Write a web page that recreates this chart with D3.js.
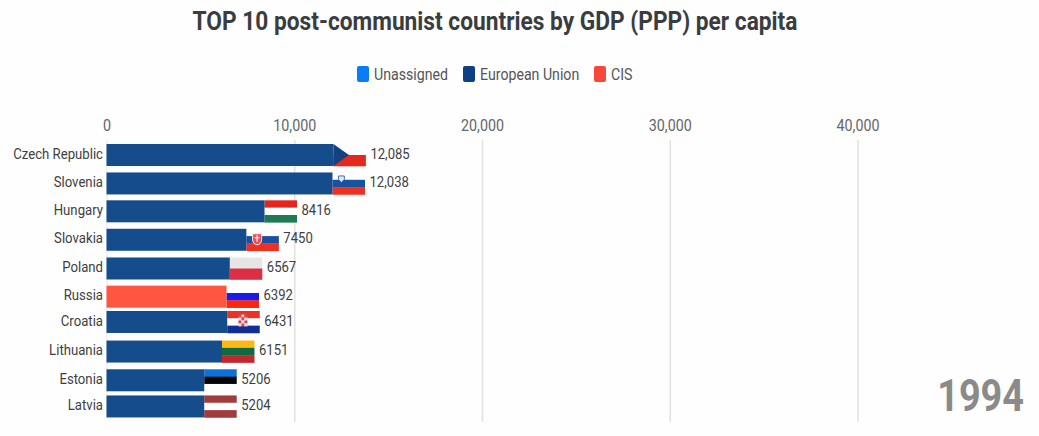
<!DOCTYPE html>
<html><head><meta charset="utf-8">
<style>html,body{margin:0;padding:0;background:#fefefe;overflow:hidden}text{font-family:Roboto,sans-serif}</style>
<script src="https://cdn.jsdelivr.net/npm/d3@7/dist/d3.min.js"></script></head>
<body><svg id="c" width="1039" height="436"></svg>
<script>
const countries=["Czech Republic","Slovenia","Hungary","Slovakia","Poland","Russia","Croatia","Lithuania","Estonia","Latvia"];
const values=[12085,12038,8416,7450,6567,6392,6431,6151,5206,5204];
const valueLabels=["12,085","12,038","8416","7450","6567","6392","6431","6151","5206","5204"];
const ranks=[0,1,1.98,2.98,3.99,4.98,5.87,6.91,7.92,8.84];
const groups=["European Union","European Union","European Union","European Union","European Union","CIS","European Union","European Union","European Union","European Union"];
const legendNames=["Unassigned","European Union","CIS"];
const legendColors=["#0a7cf5","#0f3f84","#f9463a"];
const barColors={"European Union":"#154c8c","CIS":"#fe5640"};
const ticks=[0,10000,20000,30000,40000];
const year="1994";
const flags=[["#fefefe","#e5281e"],["#fefefe","#17539e","#f0301f"],["#e2281e","#fefefe","#1f7a52"],["#fefefe","#1b4fa0","#ef2f22"],["#e6e6e6","#dc2f45"],["#fefefe","#1a1aee","#fb2510"],["#ee3024","#fefefe","#102f92"],["#fdb913","#0f6a44","#c1272d"],["#0a72d8","#050505","#fefefe"],["#a23b3b","#fefefe","#a23b3b"]];

const svg=d3.select("#c");
const x=d3.scaleLinear().domain([0,40000]).range([107,858]);
const y=d3.scaleLinear().domain([0,9]).range([144,400]);
const barH=22, flagW=32.5, barX=d3.scaleLinear().domain([0,40000]).range([106.5,857.5]);

function label(sel,xPos,yPos,str,anchor,size,color,weight,sx){
  return sel.append("text").attr("transform",`translate(${xPos},${yPos}) scale(${sx},1)`)
    .attr("text-anchor",anchor).attr("font-size",size).attr("fill",color).attr("font-weight",weight||400).text(str);
}
label(svg,495,30,"TOP 10 post-communist countries by GDP (PPP) per capita","middle",26,"#3a3d40",700,0.874);
const lx=[357,463,594], ltx=[374,480,611];
legendNames.forEach((n,i)=>{
  svg.append("rect").attr("x",lx[i]).attr("y",66).attr("width",12).attr("height",16).attr("rx",2).attr("fill",legendColors[i]);
  label(svg,ltx[i],79.5,n,"start",16,"#555",400,0.885);
});
ticks.forEach(t=>{
  svg.append("line").attr("x1",x(t)).attr("x2",x(t)).attr("y1",140).attr("y2",t?422:418)
    .attr("stroke",t?"#e2e2e2":"#e8e8e8").attr("stroke-width",t?1.6:1);
  label(svg,x(t),131,t?d3.format(",")(t):"0","middle",16,"#666",400,0.895);
});
countries.forEach((c,i)=>{
  const top=y(ranks[i]), g=svg.append("g");
  const left=barX(values[i]);
  const xs=d3.scaleLinear().domain([0,1]).range([left,left+flagW]);
  const st=flags[i], h=barH/st.length;
  st.forEach((col,k)=>g.append("rect").attr("x",xs(0)).attr("y",top+k*h).attr("width",flagW).attr("height",h+.3).attr("fill",col));
  if(c==="Czech Republic") g.append("path").attr("d",`M${xs(0)},${top}L${xs(.48)},${top+barH/2}L${xs(0)},${top+barH}Z`).attr("fill","#12427f");
  if(c==="Slovenia") g.append("path").attr("d",`M${xs(.18)},${top+3.5}h6v3.5l-3,3l-3,-3Z`).attr("fill","#dfe8f2").attr("stroke","#17539e").attr("stroke-width",.8);
  if(c==="Slovakia"){
    g.append("path").attr("d",`M${xs(.33)-4.5},${top+5}h9v6a4.5,5 0 0 1 -9,0Z`).attr("fill","#ef4a55").attr("stroke","#f3f3f3").attr("stroke-width",1);
    g.append("path").attr("d",`M${xs(.33)},${top+6.5}v6.5M${xs(.33)-2.5},${top+9}h5`).attr("stroke","#fff").attr("stroke-width",1.2);
  }
  if(c==="Croatia"){
    for(let r=0;r<4;r++)for(let q=0;q<3;q++)
      g.append("rect").attr("x",xs(.345)+q*3).attr("y",top+3.5+r*3).attr("width",3).attr("height",3).attr("fill",(r+q)%2?"#f4d5d7":"#cf4a55");
  }
  g.append("rect").attr("x",barX(0)).attr("y",top).attr("width",left-barX(0)).attr("height",barH).attr("fill",barColors[groups[i]]);
  label(svg,103,top+barH/2-.5,c,"end",15.5,"#3e3e3e",400,0.85).attr("dominant-baseline","middle");
  label(svg,left+flagW+4.5,top+barH/2-.5,valueLabels[i],"start",15.5,"#3e3e3e",400,0.845).attr("dominant-baseline","middle");
});
label(svg,1024,411,year,"end",44,"#8a8a8a",700,0.86);
</script></body></html>
